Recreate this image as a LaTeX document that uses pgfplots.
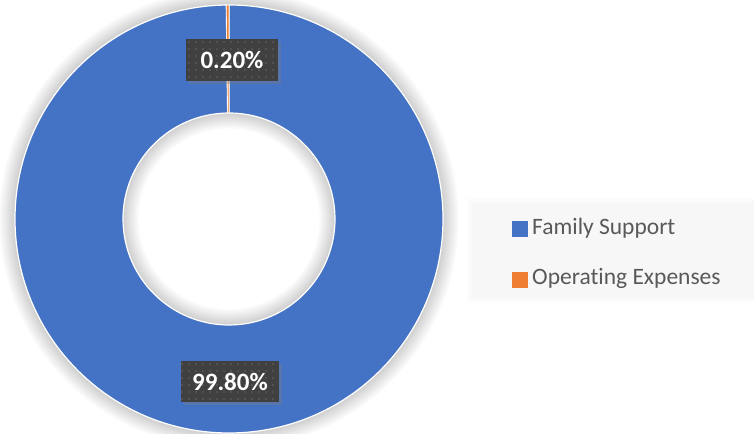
\documentclass[border=0pt]{standalone}
\usepackage{pgfplots}
\pgfplotsset{compat=1.18}
\usepackage{pgfplotstable}
\usepackage{fontspec}
\setmainfont{Carlito}[Ligatures=NoCommon]
\usetikzlibrary{patterns.meta,shadows}
\definecolor{fsblue}{HTML}{4472C4}
\definecolor{opor}{HTML}{ED7D31}
\definecolor{lblbg}{HTML}{404040}
\definecolor{legtxt}{HTML}{595959}
\definecolor{legbg}{HTML}{F7F7F7}

\pgfplotstableread[col sep=comma,row sep=\\]{label,value\\Family Support,99.8\\Operating Expenses,0.2\\}\datatable

\tikzset{dlab/.style={fill=lblbg, text=white, inner sep=0pt,
  font=\fontsize{25bp}{30bp}\selectfont\bfseries,
  drop shadow={shadow xshift=3bp, shadow yshift=-3bp, opacity=0.35},
  postaction={pattern={Dots[distance=7bp,radius=0.9bp]}, pattern color=gray!55!lblbg}}}

\begin{document}
\begin{tikzpicture}
\pgfplotstablegetelem{0}{value}\of\datatable \edef\va{\pgfplotsretval}
\pgfplotstablegetelem{1}{value}\of\datatable \edef\vb{\pgfplotsretval}
\pgfmathsetmacro\tot{\va+\vb}
\pgfmathsetmacro\aA{90}
\pgfmathsetmacro\aB{90-(\va/\tot)*360}
\pgfmathsetmacro\aC{\aB-(\vb/\tot)*360}
\pgfmathsetmacro\pa{(\va/\tot)*100}
\pgfmathsetmacro\pb{(\vb/\tot)*100}
\begin{axis}[hide axis, scale only axis, width=754bp, height=434bp,
  xmin=0, xmax=754, ymin=0, ymax=434, clip=false]
% soft shadow of the ring
\begin{scope}[shift={(axis cs:229,215)}]
  \pgfplotsinvokeforeach{1,...,16}{
    \fill[black, opacity=0.013, even odd rule]
      (canvas cs:x=0pt,y=0pt) circle[radius={(214+#1)*1bp}]
      (canvas cs:x=0pt,y=0pt) circle[radius={(106-#1)*1bp}];
  }
  % Family Support
  \fill[fsblue, draw=white, line width=1.2bp]
    (canvas polar cs:angle=\aA,radius=214bp) arc[start angle=\aA, end angle=\aB, radius=214bp]
    -- (canvas polar cs:angle=\aB,radius=106bp) arc[start angle=\aB, end angle=\aA, radius=106bp] -- cycle;
  % Operating Expenses
  \fill[opor, draw=white, line width=0.6bp]
    (canvas polar cs:angle=\aB,radius=214bp) arc[start angle=\aB, end angle=\aC, radius=214bp]
    -- (canvas polar cs:angle=\aC,radius=106bp) arc[start angle=\aC, end angle=\aB, radius=106bp] -- cycle;
\end{scope}
% data labels
\node[dlab, minimum width=92bp, minimum height=42bp] at (axis cs:232,374)
  {\pgfmathprintnumber[fixed,fixed zerofill,precision=2,assume math mode=true]{\pb}\%};
\node[dlab, minimum width=98bp, minimum height=41bp] at (axis cs:230,52.5)
  {\pgfmathprintnumber[fixed,fixed zerofill,precision=2,assume math mode=true]{\pa}\%};
% legend
\pgfplotsinvokeforeach{1,...,6}{
  \fill[black, opacity=0.005] (axis cs:{472-#1},{136-#1}) rectangle (axis cs:{754+#1},{231+#1});
}
\fill[legbg] (axis cs:472,136) rectangle (axis cs:754,231);
\fill[fsblue] (axis cs:512,197) rectangle (axis cs:528,213);
\fill[opor] (axis cs:512,146) rectangle (axis cs:528,162);
\node[anchor=base west, inner sep=0pt, text=legtxt, font=\fontsize{23.5bp}{28bp}\selectfont] at (axis cs:532,199) {Family Support};
\node[anchor=base west, inner sep=0pt, text=legtxt, font=\fontsize{23.5bp}{28bp}\selectfont] at (axis cs:532,149) {Operating Expenses};
\end{axis}
\pgfresetboundingbox
\path[use as bounding box] (0,0) rectangle (754bp,434bp);
\end{tikzpicture}
\end{document}
